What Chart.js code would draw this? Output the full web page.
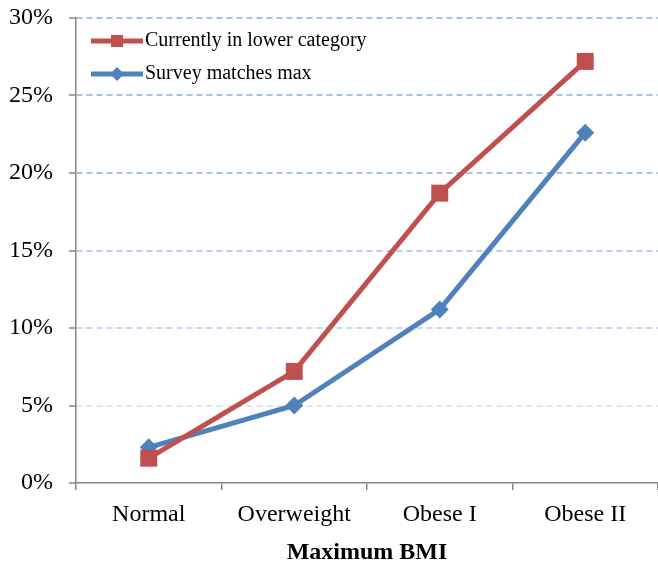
<!DOCTYPE html>
<html>
<head>
<meta charset="utf-8">
<script src="https://cdn.jsdelivr.net/npm/chart.js@4/dist/chart.umd.min.js"></script>
<style>
  html, body { margin: 0; padding: 0; background: #fff; }
  #wrap { width: 658px; height: 565px; }
</style>
</head>
<body>
<div id="wrap"><canvas id="myChart" width="658" height="565"></canvas></div>
<script>
// data
const categories = ['Normal', 'Overweight', 'Obese I', 'Obese II'];
const lowerCategory = [1.6, 7.2, 18.7, 27.2];   // Currently in lower category (%)
const surveyMatches = [2.3, 5.0, 11.2, 22.6];  // Survey matches max (%)
const seriesNames = ['Currently in lower category', 'Survey matches max'];
const yMin = 0, yMax = 30, yStep = 5;

const serif = "'Liberation Serif', 'Times New Roman', serif";
const red = '#C0504D';
const blue = '#4F81BD';
const axisGray = '#868686';

// legend symbol: line with marker in the middle
function legendSymbol(color, shape) {
    const c = document.createElement('canvas');
    c.width = 62; c.height = 20;
    const g = c.getContext('2d');
    g.strokeStyle = color;
    g.fillStyle = color;
    g.lineWidth = 5;
    g.beginPath(); g.moveTo(10, 10); g.lineTo(62, 10); g.stroke();
    if (shape === 'rect') {
        g.fillRect(36 - 6, 10 - 6, 12, 12);
    } else {
        g.beginPath();
        g.moveTo(36, 3); g.lineTo(43, 10); g.lineTo(36, 17); g.lineTo(29, 10);
        g.closePath(); g.fill();
    }
    return c;
}
const symbols = [legendSymbol(red, 'rect'), legendSymbol(blue, 'diamond')];

// gridlines fade a bit towards the bottom
function gridColor(ctx) {
    const v = ctx.tick ? ctx.tick.value : 0;
    if (v === 0) return 'rgba(0,0,0,0)';
    if (v <= 5) return '#DCE6F6';
    if (v <= 10) return '#C9D8F2';
    if (v <= 15) return '#B9CDF0';
    return '#A6C1EC';
}

// legend sits inside the plot area, pin its top to the plot top
const legendInside = {
    id: 'legendInside',
    afterLayout(chart) {
        const lg = chart.legend;
        const area = chart.chartArea;
        lg.top = area.top;
        lg.bottom = area.bottom;
        lg.left = area.left;
        lg.right = area.right;
    }
};

const ctx = document.getElementById('myChart').getContext('2d');
const myChart = new Chart(ctx, {
    type: 'line',
    data: {
        labels: categories,
        datasets: [{
            label: seriesNames[0],
            data: lowerCategory,
            borderColor: red,
            backgroundColor: red,
            borderWidth: 5,
            pointStyle: 'rect',
            pointRadius: 12,
            pointHoverRadius: 12,
            pointBorderWidth: 0,
            tension: 0
        }, {
            label: seriesNames[1],
            data: surveyMatches,
            borderColor: blue,
            backgroundColor: blue,
            borderWidth: 5,
            pointStyle: 'rectRot',
            pointRadius: 9,
            pointHoverRadius: 9,
            pointBorderWidth: 0,
            tension: 0
        }]
    },
    plugins: [legendInside],
    options: {
        responsive: false,
        animation: false,
        layout: { autoPadding: false, padding: { top: 18, right: -2, bottom: 0, left: 0 } },
        plugins: {
            tooltip: { enabled: false },
            legend: {
                position: 'chartArea',
                align: 'start',
                labels: {
                    usePointStyle: true,
                    pointStyleWidth: 46,
                    padding: 13,
                    color: '#000',
                    font: { family: serif, size: 20 },
                    generateLabels: function (chart) {
                        const items = Chart.defaults.plugins.legend.labels.generateLabels(chart);
                        items.forEach((it, i) => { it.pointStyle = symbols[i]; });
                        return items;
                    }
                }
            }
        },
        scales: {
            x: {
                offset: true,
                grid: {
                    display: true,
                    offset: true,
                    drawOnChartArea: false,
                    tickLength: 7,
                    color: axisGray,
                    lineWidth: 1.5
                },
                border: { color: axisGray, width: 1.5 },
                ticks: {
                    color: '#000',
                    padding: 10,
                    font: { family: serif, size: 24 }
                },
                title: {
                    display: true,
                    text: 'Maximum BMI',
                    color: '#000',
                    font: { family: serif, size: 24, weight: 'bold', lineHeight: 1 },
                    padding: { top: 4, bottom: 0 }
                },
                afterFit: function (scale) {
                    scale.height = 82;
                    scale.paddingLeft = 0;
                    scale.paddingRight = 0;
                }
            },
            y: {
                min: yMin,
                max: yMax,
                grid: {
                    color: gridColor,
                    lineWidth: 2,
                    tickLength: 7,
                    tickColor: axisGray,
                    tickWidth: 1.5
                },
                border: { color: axisGray, width: 1.5, dash: [6, 4] },
                ticks: {
                    stepSize: yStep,
                    color: '#000',
                    padding: 16,
                    font: { family: serif, size: 24 },
                    callback: v => v + '%'
                },
                afterFit: function (scale) {
                    scale.width = 76;
                    scale.paddingTop = 0;
                    scale.paddingBottom = 0;
                }
            }
        }
    }
});
</script>
</body>
</html>
